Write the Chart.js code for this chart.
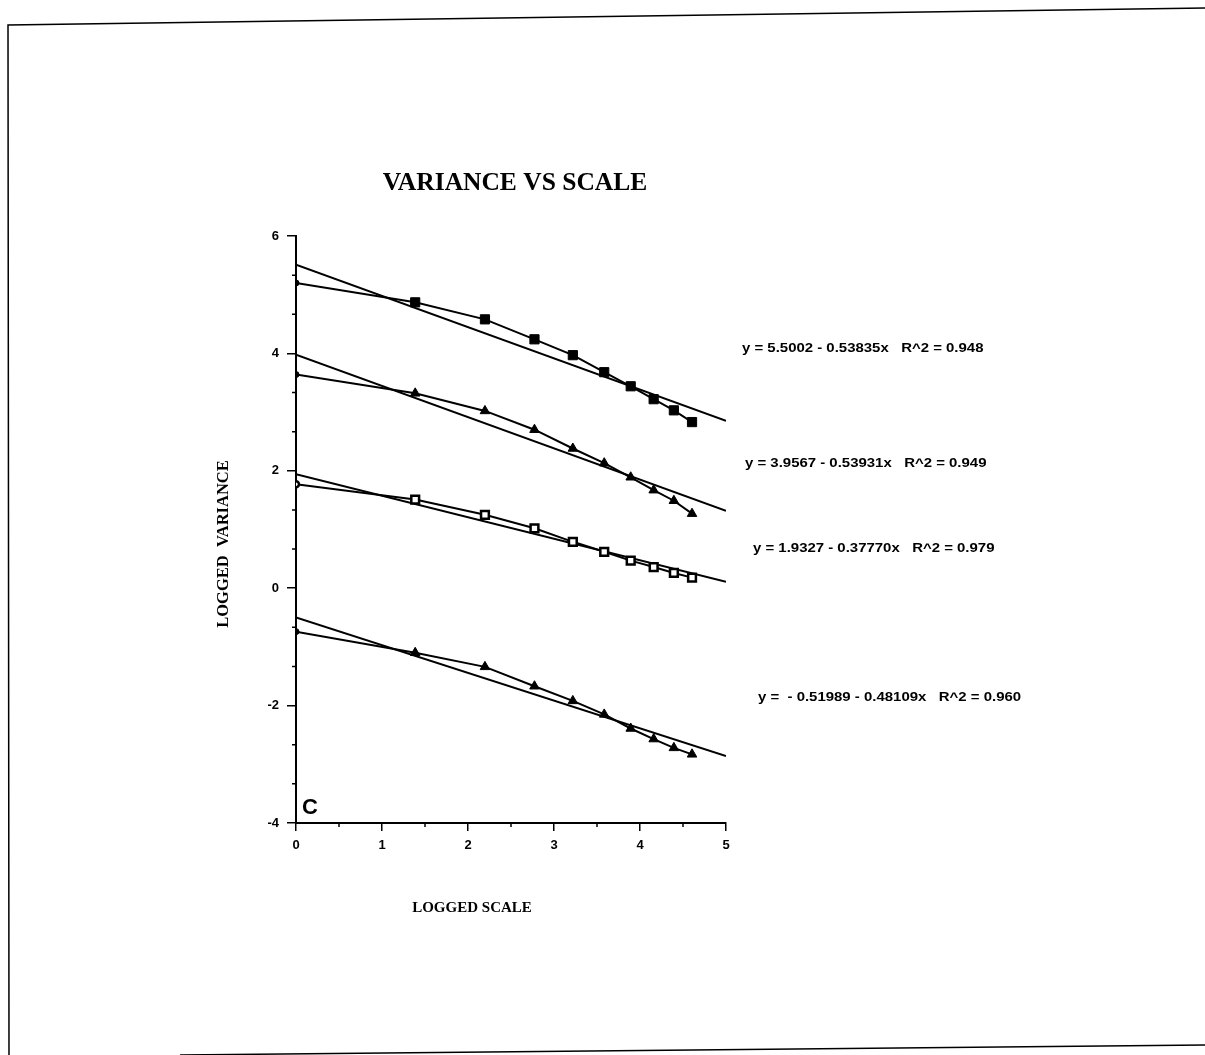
<!DOCTYPE html>
<html>
<head>
<meta charset="utf-8">
<script src="https://cdn.jsdelivr.net/npm/chart.js@4.4.1/dist/chart.umd.min.js"></script>
<style>
  html, body { margin: 0; padding: 0; background: #fff; }
  #wrap { position: relative; width: 1205px; height: 1055px; }
</style>
</head>
<body>
<div id="wrap"><canvas id="chart" width="1205" height="1055"></canvas></div>
<script>
// logged scale (x) shared by all four series
const logScale = [0, 1.386, 2.197, 2.773, 3.219, 3.584, 3.892, 4.159, 4.394, 4.605];

// logged variance
const varA = [5.20, 4.87, 4.58, 4.24, 3.97, 3.68, 3.44, 3.22, 3.03, 2.83];
const varB = [3.64, 3.32, 3.02, 2.70, 2.38, 2.13, 1.89, 1.67, 1.49, 1.27];
const varC = [1.77, 1.51, 1.25, 1.02, 0.79, 0.62, 0.47, 0.36, 0.26, 0.18];
const varD = [-0.74, -1.10, -1.34, -1.67, -1.92, -2.15, -2.39, -2.57, -2.72, -2.83];

// regression lines, endpoints at x = 0 and x = 5
const fitX = [0, 5];
const fitA = [5.51, 2.85];
const fitB = [3.98, 1.32];
const fitC = [1.94, 0.11];
const fitD = [-0.50, -2.86];

const equations = [
  'y = 5.5002 - 0.53835x   R^2 = 0.948',
  'y = 3.9567 - 0.53931x   R^2 = 0.949',
  'y = 1.9327 - 0.37770x   R^2 = 0.979',
  'y =  - 0.51989 - 0.48109x   R^2 = 0.960'
];

const xTicks = [0, 1, 2, 3, 4, 5];
const yTicks = [-4, -2, 0, 2, 4, 6];

const pts = (ys) => logScale.map((x, i) => ({ x: x, y: ys[i] }));
const line = (ys) => fitX.map((x, i) => ({ x: x, y: ys[i] }));

const markerSeries = (label, ys, style, radius, fill) => ({
  label: label,
  data: pts(ys),
  showLine: true,
  borderColor: '#000',
  borderWidth: 2,
  pointStyle: logScale.map((x, i) => (i === 0 ? 'circle' : style)),
  pointRadius: logScale.map((x, i) => (i === 0 ? 3 : radius)),
  pointBackgroundColor: fill,
  pointBorderColor: '#000',
  pointBorderWidth: fill === '#fff' ? 2.5 : 1,
});

const fitSeries = (label, ys) => ({
  label: label,
  data: line(ys),
  showLine: true,
  borderColor: '#000',
  borderWidth: 2,
  pointRadius: 0,
});

// page frame, title, labels and minor ticks
const decorations = {
  id: 'decorations',
  afterDraw(chart) {
    const ctx = chart.ctx;
    const xs = chart.scales.x;
    const ys = chart.scales.y;
    ctx.save();

    // scanned page edge
    ctx.strokeStyle = '#000';
    ctx.lineWidth = 1.5;
    ctx.beginPath();
    ctx.moveTo(1205, 8);
    ctx.lineTo(8, 25);
    ctx.lineTo(9, 1055);
    ctx.moveTo(180, 1055);
    ctx.lineTo(1205, 1045);
    ctx.stroke();

    // minor ticks
    ctx.lineWidth = 1.5;
    ctx.beginPath();
    for (let v = -4; v <= 6.001; v += 2 / 3) {
      if (Math.abs(v - Math.round(v)) < 0.01 && Math.round(v) % 2 === 0) continue;
      const py = ys.getPixelForValue(v);
      ctx.moveTo(xs.left, py);
      ctx.lineTo(xs.left - 4, py);
    }
    for (let v = 0.5; v < 5; v += 1) {
      const px = xs.getPixelForValue(v);
      ctx.moveTo(px, ys.bottom);
      ctx.lineTo(px, ys.bottom + 4);
    }
    ctx.stroke();

    ctx.fillStyle = '#000';
    ctx.textBaseline = 'middle';

    // title
    ctx.textAlign = 'center';
    ctx.font = 'bold 25.5px "Liberation Serif", serif';
    ctx.fillText('VARIANCE VS SCALE', 515, 183);

    // x axis title
    ctx.font = 'bold 15px "Liberation Serif", serif';
    ctx.fillText('LOGGED SCALE', 472, 908);

    // y axis title
    ctx.save();
    ctx.translate(224, 544);
    ctx.rotate(-Math.PI / 2);
    ctx.font = 'bold 16.5px "Liberation Serif", serif';
    ctx.fillText('LOGGED  VARIANCE', 0, 0);
    ctx.restore();

    // panel letter
    ctx.textAlign = 'left';
    ctx.font = 'bold 22px "Liberation Sans", Arial, sans-serif';
    ctx.fillText('C', 302, 808);

    // regression equations, slightly wide as in the scan
    ctx.font = 'bold 13px "Liberation Sans", Arial, sans-serif';
    const eqPos = [[742, 348], [745, 463], [753, 548], [758, 697]];
    equations.forEach((t, i) => {
      ctx.save();
      ctx.translate(eqPos[i][0], eqPos[i][1]);
      ctx.scale(1.15, 1);
      ctx.fillText(t, 0, 0);
      ctx.restore();
    });

    ctx.restore();
  }
};

const ctx = document.getElementById('chart').getContext('2d');
new Chart(ctx, {
  type: 'scatter',
  data: {
    datasets: [
      markerSeries('A', varA, 'rect', 6.5, '#000'),
      markerSeries('B', varB, 'triangle', 5.5, '#000'),
      markerSeries('C', varC, 'rect', 5.5, '#fff'),
      markerSeries('D', varD, 'triangle', 5.5, '#000'),
      fitSeries('fit A', fitA),
      fitSeries('fit B', fitB),
      fitSeries('fit C', fitC),
      fitSeries('fit D', fitD),
    ],
  },
  options: {
    responsive: false,
    animation: false,
    layout: {
      padding: { left: 0, right: 479, top: 236, bottom: 172 },
    },
    plugins: {
      legend: { display: false },
      tooltip: { enabled: false },
      title: { display: false },
    },
    scales: {
      x: {
        type: 'linear',
        min: 0,
        max: 5,
        afterFit: (scale) => { scale.height = 60; },
        afterBuildTicks: (scale) => { scale.ticks = xTicks.map((v) => ({ value: v })); },
        grid: {
          drawOnChartArea: false,
          drawTicks: true,
          tickLength: 8,
          color: '#000',
          lineWidth: 1.5,
        },
        border: { display: true, color: '#000', width: 2 },
        ticks: {
          color: '#000',
          padding: 7,
          maxRotation: 0,
          font: { family: '"Liberation Sans", Arial, sans-serif', size: 13, weight: 'bold' },
        },
      },
      y: {
        type: 'linear',
        min: -4,
        max: 6,
        afterFit: (scale) => { scale.width = 296; },
        afterBuildTicks: (scale) => { scale.ticks = yTicks.map((v) => ({ value: v })); },
        grid: {
          drawOnChartArea: false,
          drawTicks: true,
          tickLength: 9,
          color: '#000',
          lineWidth: 1.5,
        },
        border: { display: true, color: '#000', width: 2 },
        ticks: {
          color: '#000',
          padding: 8,
          font: { family: '"Liberation Sans", Arial, sans-serif', size: 13, weight: 'bold' },
        },
      },
    },
  },
  plugins: [decorations],
});
</script>
</body>
</html>
